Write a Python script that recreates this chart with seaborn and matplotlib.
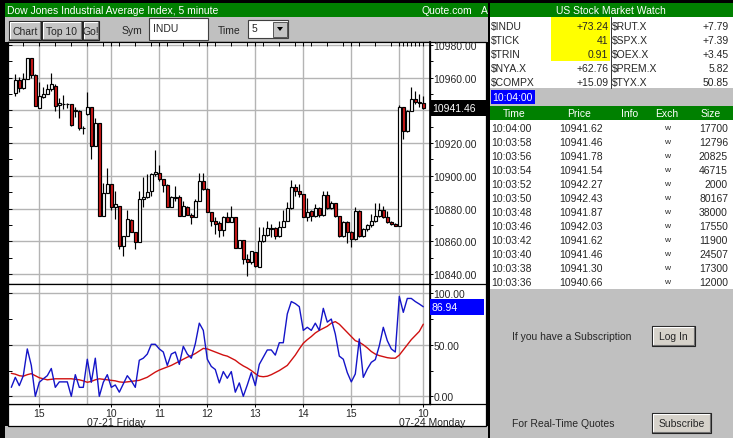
import numpy as np
import matplotlib
matplotlib.use("Agg")
import matplotlib.pyplot as plt
import matplotlib.transforms as mtrans
from matplotlib.patches import Rectangle, Polygon
import seaborn as sns

# ---------------- data ----------------
opens = [10950.8, 10958.4, 10953.5, 10959.4, 10971.8, 10961.6, 10941.7, 10948.4, 10950.2, 10952.9,
         10954.9, 10943.1, 10943.7, 10944.1, 10944.1, 10939.7, 10939.7, 10929.1, 10937.6, 10942.1,
         10918.3, 10932.5, 10875.6, 10889.4, 10895.3, 10880.7, 10881.7, 10857.3, 10863.4, 10872.9,
         10865.4, 10859.3, 10885.7, 10886.8, 10890.8, 10901.4, 10902.0, 10898.0, 10894.5, 10880.7,
         10886.3, 10887.2, 10875.6, 10881.1, 10876.2, 10875.0, 10884.7, 10896.9, 10891.8, 10877.6,
         10872.1, 10870.9, 10866.8, 10875.0, 10871.5, 10875.0, 10855.8, 10860.7, 10849.1, 10847.1,
         10853.2, 10844.4, 10859.9, 10864.0, 10867.4, 10868.0, 10863.4, 10868.8, 10872.1, 10880.3,
         10892.9, 10890.8, 10889.2, 10875.0, 10878.2, 10875.6, 10880.3, 10876.2, 10888.4, 10880.3,
         10883.1, 10875.6, 10863.4, 10871.5, 10865.8, 10861.3, 10878.6, 10863.4, 10867.4, 10869.9,
         10872.5, 10875.6, 10879.2, 10874.6, 10871.5, 10870.5, 10869.5, 10941.8, 10927.6, 10939.8,
         10946.9, 10944.9, 10944.5]
highs = [10962.0, 10960.6, 10963.0, 10971.8, 10971.8, 10962.0, 10957.6, 10954.3, 10956.3, 10963.0,
         10955.9, 10947.8, 10949.4, 10944.7, 10944.1, 10942.0, 10940.1, 10930.5, 10951.5, 10942.1,
         10935.6, 10932.5, 10895.9, 10904.7, 10895.3, 10890.8, 10881.7, 10863.4, 10879.0, 10873.5,
         10865.4, 10890.8, 10899.0, 10901.4, 10902.0, 10915.6, 10906.6, 10898.0, 10895.0, 10887.8,
         10893.9, 10888.4, 10884.7, 10881.7, 10877.0, 10885.7, 10902.0, 10902.0, 10892.8, 10877.6,
         10874.6, 10872.5, 10875.6, 10877.6, 10881.3, 10875.0, 10860.7, 10860.7, 10852.0, 10854.2,
         10853.2, 10868.8, 10868.8, 10872.5, 10870.5, 10869.0, 10872.5, 10879.0, 10884.0, 10897.3,
         10895.3, 10895.3, 10889.2, 10886.3, 10879.0, 10882.7, 10880.7, 10890.8, 10890.8, 10884.7,
         10883.7, 10875.6, 10872.5, 10872.5, 10866.4, 10880.7, 10879.0, 10868.4, 10870.5, 10876.6,
         10883.7, 10883.7, 10881.7, 10878.6, 10872.5, 10870.9, 10943.5, 10942.0, 10940.5, 10954.1,
         10952.0, 10950.0, 10949.0]
lows = [10948.8, 10951.5, 10952.9, 10959.4, 10960.0, 10942.7, 10941.3, 10947.8, 10949.8, 10951.9,
        10939.7, 10935.6, 10940.7, 10941.3, 10930.5, 10936.0, 10927.9, 10925.4, 10937.2, 10910.2,
        10918.3, 10875.2, 10875.6, 10889.4, 10879.0, 10873.5, 10855.0, 10851.2, 10863.4, 10865.4,
        10855.2, 10859.3, 10880.7, 10886.3, 10887.8, 10900.0, 10897.0, 10890.2, 10880.7, 10880.7,
        10884.7, 10875.6, 10875.6, 10876.2, 10870.5, 10875.0, 10884.7, 10891.4, 10877.6, 10869.5,
        10864.3, 10862.8, 10863.4, 10871.5, 10871.5, 10855.8, 10855.8, 10846.1, 10839.0, 10846.1,
        10844.0, 10844.0, 10859.3, 10863.4, 10862.8, 10861.3, 10862.8, 10868.8, 10872.1, 10879.6,
        10887.8, 10886.8, 10874.6, 10872.5, 10872.1, 10875.0, 10874.6, 10875.6, 10879.6, 10879.6,
        10875.0, 10862.8, 10862.8, 10858.9, 10856.2, 10860.7, 10862.4, 10862.8, 10866.4, 10868.8,
        10871.5, 10874.6, 10874.1, 10870.9, 10870.1, 10869.1, 10869.5, 10922.5, 10927.0, 10939.5,
        10944.0, 10942.0, 10940.8]
closes = [10958.4, 10953.5, 10959.4, 10971.8, 10961.6, 10942.7, 10948.8, 10950.2, 10952.9, 10956.3,
          10942.7, 10944.7, 10944.1, 10943.7, 10931.1, 10939.9, 10929.5, 10929.3, 10942.1, 10918.3,
          10932.5, 10875.2, 10889.8, 10895.3, 10881.1, 10882.7, 10857.3, 10863.4, 10873.5, 10865.4,
          10859.3, 10885.7, 10886.8, 10890.4, 10901.4, 10902.4, 10898.0, 10894.5, 10880.7, 10886.8,
          10887.2, 10875.6, 10881.7, 10876.2, 10874.6, 10884.7, 10896.9, 10891.8, 10877.6, 10872.1,
          10870.5, 10866.8, 10875.0, 10871.5, 10875.0, 10855.8, 10860.7, 10849.1, 10847.1, 10853.8,
          10845.0, 10859.9, 10864.0, 10868.0, 10868.0, 10863.4, 10868.8, 10872.1, 10880.3, 10892.9,
          10890.8, 10889.2, 10875.0, 10878.2, 10875.6, 10880.3, 10876.2, 10888.4, 10880.3, 10883.1,
          10875.6, 10863.4, 10871.5, 10865.8, 10861.3, 10878.6, 10863.4, 10867.4, 10869.9, 10872.5,
          10875.6, 10879.2, 10874.6, 10871.5, 10870.5, 10869.5, 10941.8, 10927.6, 10939.8, 10946.9,
          10944.9, 10944.5, 10941.46]

# oscillator (first point sits one bar before the first candle)
osc_fast = [8.7, 18.4, 10.4, 20, 46, 30, 0, 13.6, 17, 20,
            27, 8.7, 14, 14, 14, 0, 21, 8.7, 8.7, 36,
            13.6, 37, 0, 13.6, 21, 8.7, 11, 4, 12, 20,
            15, 8.7, 35, 37, 41, 50.5, 50.5, 46, 43, 30,
            41, 43, 31, 48.5, 41, 37, 51, 71, 64, 36,
            29, 26, 13, 24, 17.5, 24, 4, 13, 0, 11,
            23, 10.4, 31, 38, 45, 45, 40, 52, 52, 80,
            92, 90, 87, 64, 67, 64, 71, 64, 85.4, 72,
            75, 60.5, 39, 36, 23, 14, 21.7, 55.7, 18.4, 26.5,
            33, 35.6, 49, 67, 54, 46, 43, 97, 81.5, 95,
            95, 92, 89.6, 86.94]
osc_slow = [22.3, 21.5, 20, 19.5, 21, 22, 20, 18, 17, 16,
            16.5, 17, 17, 17, 17, 17, 16.5, 16, 15, 13.6,
            14.5, 16, 17, 16.5, 16, 15.5, 15, 14, 13.6, 14,
            14.5, 15, 15.5, 17, 18.5, 21, 23.5, 25.5, 27, 28.5,
            30, 32, 34, 36, 38, 39.5, 41.5, 44, 46.5, 46,
            44.5, 43, 41.5, 40, 39, 37, 35, 32, 29.5, 27.5,
            25, 22, 19.5, 19, 19.5, 21, 23, 25, 27.5, 30,
            35, 40, 46, 51.5, 55, 58, 61.5, 64, 66, 68,
            71, 72.5, 70, 66, 62, 58, 54, 52.5, 50, 47,
            43.5, 41, 39.5, 38.5, 37.5, 37, 37, 40, 45, 50,
            55, 59, 63, 70]

hour_bars = [6, 24, 36, 48, 60, 72, 84, 102]
hour_labels = ["15", "10", "11", "12", "13", "14", "15", "10"]
day_start_bars = [18, 96]
day_labels = ["07-21 Friday", "07-24 Monday"]
price_ticks = [10840, 10860, 10880, 10900, 10920, 10940, 10960, 10980]
osc_ticks = [0, 50, 100]
last_price = 10941.46
last_osc = 86.94

watch_left = [("$INDU", "+73.24"), ("$TICK", "41"), ("$TRIN", "0.91"),
              ("$NYA.X", "+62.76"), ("$COMPX", "+15.09")]
watch_right = [("$RUT.X", "+7.79"), ("$SPX.X", "+7.39"), ("$OEX.X", "+3.45"),
               ("$PREM.X", "5.82"), ("$TYX.X", "50.85")]
trade_times = ["10:04:00", "10:03:58", "10:03:56", "10:03:54", "10:03:52", "10:03:50",
               "10:03:48", "10:03:46", "10:03:42", "10:03:40", "10:03:38", "10:03:36"]
trade_prices = ["10941.62", "10941.46", "10941.78", "10941.54", "10942.27", "10942.43",
                "10941.87", "10942.03", "10941.62", "10941.46", "10941.30", "10940.66"]
trade_sizes = ["17700", "12796", "20825", "46715", "2000", "80167",
               "38000", "17550", "11900", "24507", "17300", "12000"]
trade_exch = "w"
clock = "10:04:00"

# ---------------- style ----------------
sns.set_theme(style="white")
plt.rcParams['font.family'] = ['Liberation Sans', 'DejaVu Sans']
FS = 7.5
GREEN = '#008000'
GRAY = '#c0c0c0'
GRID = '#b4b4b4'
CRED = '#d01818'

W, H = 733, 439
fig = plt.figure(figsize=(W / 100, H / 100), dpi=100)
fig.patch.set_facecolor('black')


def rect(x, y, w, h):
    return [x / W, 1 - (y + h) / H, w / W, h / H]


bg = fig.add_axes([0, 0, 1, 1])
bg.set_xlim(0, W)
bg.set_ylim(H, 0)
bg.axis('off')


def box(x, y, w, h, fc, ec='none', lw=0.8, z=1):
    bg.add_patch(Rectangle((x, y), w, h, facecolor=fc, edgecolor=ec, linewidth=lw, zorder=z))


def button(x, y, w, h, label, fc='#c4c4c4'):
    box(x, y, w, h, fc, ec='#202020', lw=0.8, z=2)
    bg.plot([x + 1, x + w - 1], [y + 1.2, y + 1.2], color='white', lw=0.8, zorder=3)
    bg.plot([x + 1.2, x + 1.2], [y + 1, y + h - 1], color='white', lw=0.8, zorder=3)
    bg.plot([x + 1, x + w - 1.2, x + w - 1.2], [y + h - 1.2, y + h - 1.2, y + 1],
            color='#707070', lw=0.8, zorder=3)
    bg.text(x + w / 2, y + h / 2 + 0.5, label, ha='center', va='center', fontsize=FS, zorder=4)


# left panel frame
box(5, 4, 483, 14, GREEN)
box(5, 18, 483, 25, GRAY)
box(5, 427, 483, 12, GRAY)
box(8, 43, 478, 384, 'white', ec='black', lw=0.9)
bg.plot([8, 486], [285, 285], color='black', lw=0.9, zorder=3)
bg.plot([8, 486], [405, 405], color='black', lw=0.9, zorder=3)
bg.text(7, 11.5, "Dow Jones Industrial Average Index, 5 minute", color='white',
        fontsize=FS, ha='left', va='center', zorder=4)
bg.text(422, 11.5, "Quote.com", color='white', fontsize=FS, ha='left', va='center', zorder=4)
bg.text(481, 11.5, "A", color='white', fontsize=FS, ha='left', va='center', zorder=4)

button(9, 22, 32, 19, "Chart")
button(42, 22, 40, 19, "Top 10")
button(83, 22, 16, 19, "Go!")
bg.text(132, 31.5, "Sym", fontsize=FS, ha='center', va='center', zorder=4)
box(149, 19, 59, 22, 'white', ec='#404040', lw=0.8, z=2)
bg.text(153, 29, "INDU", fontsize=FS, ha='left', va='center', zorder=4)
bg.text(229, 31.5, "Time", fontsize=FS, ha='center', va='center', zorder=4)
box(248, 21, 40, 18, 'white', ec='#404040', lw=0.8, z=2)
bg.text(252, 29, "5", fontsize=FS, ha='left', va='center', zorder=4)
box(273, 22.5, 14, 15, '#c4c4c4', ec='#404040', lw=0.6, z=3)
bg.add_patch(Polygon([[277, 28], [283, 28], [280, 32]], closed=True, fc='black', ec='none', zorder=4))

# right panel
box(490, 4, 243, 14, GREEN)
bg.text(611, 11.5, "US Stock Market Watch", color='white', fontsize=FS, ha='center',
        va='center', zorder=4)
box(490, 18, 243, 71, 'white')
box(551, 18, 59, 44, '#ffff00', z=1.5)
bg.plot([610.5, 610.5], [18, 89], color='#303030', lw=0.7, zorder=3)
for i, ((ln, lv), (rn, rv)) in enumerate(zip(watch_left, watch_right)):
    yy = 27 + 14 * i
    bg.text(491, yy, ln, fontsize=FS, ha='left', va='center', zorder=4)
    bg.text(608.5, yy, lv, fontsize=FS, ha='right', va='center', zorder=4)
    bg.text(611.5, yy, rn, fontsize=FS, ha='left', va='center', zorder=4)
    bg.text(729, yy, rv, fontsize=FS, ha='right', va='center', zorder=4)
box(490, 89, 243, 18, GRAY)
box(491, 91, 44, 14, '#0000ff', z=2)
bg.text(492, 98, clock, color='white', fontsize=FS, ha='left', va='center', zorder=4)
box(490, 107, 243, 14, GREEN)
for lab, xc in zip(["Time", "Price", "Info", "Exch", "Size"], [514, 579, 630, 667, 711]):
    bg.text(xc, 114.5, lab, color='white', fontsize=FS, ha='center', va='center', zorder=4)
box(490, 121, 243, 169, 'white')
for i in range(len(trade_times)):
    yy = 129 + 14 * i
    bg.text(491, yy, trade_times[i], fontsize=FS, ha='left', va='center', zorder=4)
    bg.text(581, yy, trade_prices[i], fontsize=FS, ha='center', va='center', zorder=4)
    bg.text(667, yy, trade_exch, fontsize=6, ha='center', va='center', zorder=4)
    bg.text(728, yy, trade_sizes[i], fontsize=FS, ha='right', va='center', zorder=4)
box(490, 290, 243, 149, GRAY)
bg.text(512, 337.5, "If you have a Subscription", fontsize=FS, ha='left', va='center', zorder=4)
button(652, 327, 43, 20, "Log In", fc='#d6d2ca')
bg.text(512, 424, "For Real-Time Quotes", fontsize=FS, ha='left', va='center', zorder=4)
button(652, 414, 59, 20, "Subscribe", fc='#d6d2ca')

# ---------------- price chart ----------------
n = len(opens)
idx = np.arange(n)
o = np.array(opens); c = np.array(closes); hi = np.array(highs); lo = np.array(lows)
XL = ((8 - 15.3) / 4, (430 - 15.3) / 4)
grid_bars = sorted(hour_bars + day_start_bars)

ax = fig.add_axes(rect(8, 43, 422, 242))
ax.set_facecolor('white')
ax.set_xlim(*XL)
ax.set_ylim(10840 + (275 - 285) * 0.6112, 10840 + (275 - 43) * 0.6112)
for g in grid_bars:
    ax.axvline(g, color=GRID, lw=1, zorder=0)
for p in price_ticks:
    ax.axhline(p, color=GRID, lw=1, zorder=0)
ax.vlines(idx, lo, hi, color='black', lw=0.85, zorder=2)
body_lo = np.minimum(o, c)
body_h = np.maximum(np.abs(c - o), 0.35)
fills = np.where(c >= o, 'white', CRED)
ax.bar(idx, body_h, bottom=body_lo, width=0.72, color=fills, edgecolor='black',
       linewidth=0.85, zorder=3)
for s in ax.spines.values():
    s.set_color('black'); s.set_linewidth(0.9)
ax.set_yticks(np.arange(10840, 10990, 10))
ax.tick_params(axis='y', which='both', left=True, right=False, direction='in', length=3,
               width=0.7, labelleft=False, color='black')
top_minor = list(range(2, 18, 4)) + list(range(18, 96, 4)) + list(range(96, 103))
ax.set_xticks(grid_bars)
ax.set_xticks(top_minor, minor=True)
ax.tick_params(axis='x', which='both', top=True, bottom=False, direction='in', length=3,
               width=0.7, labelbottom=False, color='black')
# the label under the last-price box is hidden by that box in the reference
price_labels = ["" if abs(p - last_price) < 5 else f"{p:.2f}" for p in price_ticks]
sec = ax.secondary_yaxis('right')
sec.set_yticks(price_ticks, labels=price_labels)
sec.set_yticks(np.arange(10840, 10990, 10), minor=True)
sec.tick_params(which='both', direction='out', length=2, width=0.7, pad=0.5,
                labelsize=FS, color='black')
sec.spines['right'].set_color('black')
tr = mtrans.blended_transform_factory(ax.transAxes, ax.transData)
ax.add_patch(Rectangle((1.0, last_price - 4.6), 57 / 422, 9.2, transform=tr, facecolor='black',
                       edgecolor='none', clip_on=False, zorder=10))
ax.text(1.0 + 2 / 422, last_price, f"{last_price:.2f}", transform=tr, color='white',
        fontsize=FS, ha='left', va='center', clip_on=False, zorder=11)

# ---------------- oscillator ----------------
ax2 = fig.add_axes(rect(8, 285, 422, 120))
ax2.set_facecolor('white')
ax2.set_xlim(*XL)
ax2.set_ylim((397.3 - 405) / 1.03, (397.3 - 285) / 1.03)
for g in grid_bars:
    ax2.axvline(g, color=GRID, lw=1, zorder=0)
for v in osc_ticks:
    ax2.axhline(v, color=GRID, lw=1, zorder=0)
osc_x = np.arange(-1, len(osc_fast) - 1)
sns.lineplot(x=osc_x, y=osc_slow, ax=ax2, color='#d01010', lw=1, sort=False, zorder=2)
sns.lineplot(x=osc_x, y=osc_fast, ax=ax2, color='#1414c8', lw=1, sort=False, zorder=3)
for s in ax2.spines.values():
    s.set_color('black'); s.set_linewidth(0.9)
ax2.set_xlabel(''); ax2.set_ylabel('')
ax2.set_yticks([0, 25, 50, 75, 100])
ax2.tick_params(axis='y', left=True, right=False, direction='in', length=3, width=0.7,
                labelleft=False, color='black')
ax2.set_xticks(hour_bars, labels=hour_labels)
ax2.tick_params(axis='x', bottom=True, top=False, direction='out', length=2.5, width=0.7,
                pad=0.5, labelsize=FS, color='black')
sec2 = ax2.secondary_yaxis('right')
sec2.set_yticks(osc_ticks, labels=[f"{v:.2f}" for v in osc_ticks])
sec2.set_yticks([25, 75], minor=True)
sec2.tick_params(which='both', direction='out', length=2, width=0.7, pad=0.5,
                 labelsize=FS, color='black')
sec2.spines['right'].set_color('black')
tr2 = mtrans.blended_transform_factory(ax2.transAxes, ax2.transData)
ax2.add_patch(Rectangle((1.0, last_osc - 7.8), 54 / 422, 15.5, transform=tr2, facecolor='#0000ff',
                        edgecolor='none', clip_on=False, zorder=10))
ax2.text(1.0 + 2 / 422, last_osc, f"{last_osc:.2f}", transform=tr2, color='white',
         fontsize=FS, ha='left', va='center', clip_on=False, zorder=11)
trd = mtrans.blended_transform_factory(ax2.transData, ax2.transAxes)
for b, lab in zip(day_start_bars, day_labels):
    ax2.text(b, -0.15, lab, transform=trd, fontsize=FS, ha='left', va='center', clip_on=False)

fig.savefig("out.png", dpi=100, facecolor=fig.get_facecolor())
